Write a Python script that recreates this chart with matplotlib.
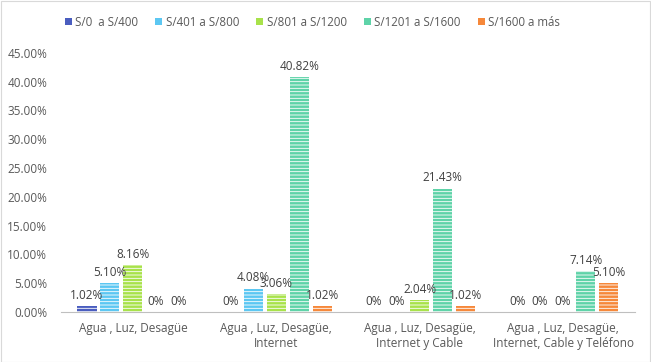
import matplotlib.pyplot as plt
import numpy as np

categories = ["Agua , Luz, Desagüe",
              "Agua , Luz, Desagüe,\nInternet",
              "Agua , Luz, Desagüe,\nInternet y Cable",
              "Agua , Luz, Desagüe,\nInternet, Cable y Teléfono"]
series_names = ["S/0  a S/400", "S/401 a S/800", "S/801 a S/1200", "S/1201 a S/1600", "S/1600 a más"]
s0_400 = [1.02, 0, 0, 0]
s401_800 = [5.10, 4.08, 0, 0]
s801_1200 = [8.16, 3.06, 2.04, 0]
s1201_1600 = [0, 40.82, 21.43, 7.14]
s1600_mas = [0, 1.02, 1.02, 5.10]
colors = ["#4a5dbf", "#5cc7f2", "#a8e24a", "#5ed3a8", "#f6883a"]

plt.rcParams['font.family'] = ['Open Sans', 'DejaVu Sans']
plt.rcParams['hatch.linewidth'] = 0.6

fig = plt.figure(figsize=(6.51, 3.62), dpi=100)
ax = fig.add_axes([0.094, 0.138, 0.881, 0.716])

series = [s0_400, s401_800, s801_1200, s1201_1600, s1600_mas]
x = np.arange(len(categories))
slot = 0.8 / len(series)
for i, (vals, name, c) in enumerate(zip(series, series_names, colors)):
    pos = x + (i - 2) * slot
    ax.bar(pos, vals, width=slot * 0.83, color=c, edgecolor="white", linewidth=0,
           hatch="-----", label=name)
    for p, v in zip(pos, vals):
        txt = "0%" if v == 0 else f"{v:.2f}%"
        ax.annotate(txt, (p, v), xytext=(0, 3), textcoords="offset points",
                    ha="center", va="bottom", fontsize=8.5, color="#404040")

ax.set_xlim(-0.5, len(categories) - 0.5)
ax.set_ylim(0, 45)
ax.set_yticks(np.arange(0, 46, 5))
ax.set_yticklabels([f"{t:.2f}%" for t in np.arange(0, 46, 5)])
ax.set_xticks(x)
ax.set_xticklabels(categories)
ax.tick_params(axis="both", length=0, labelsize=8.5, labelcolor="#595959")
ax.tick_params(axis="y", pad=10)
ax.tick_params(axis="x", pad=7)
for s in ["top", "right", "left"]:
    ax.spines[s].set_visible(False)
ax.spines["bottom"].set_color("#bfbfbf")

# legend with small square markers
handles = [plt.Rectangle((0, 0), 1, 1, facecolor=c, edgecolor="none") for c in colors]
fig.legend(handles, series_names, loc="upper center", bbox_to_anchor=(0.48, 0.985), ncol=5,
           frameon=False, fontsize=8.3, handlelength=0.6, handleheight=0.6, handletextpad=0.3,
           columnspacing=1.5, labelcolor="#595959")

fig.patches.append(plt.Rectangle((0.001, 0.001), 0.997, 0.997, transform=fig.transFigure,
                                 fill=False, edgecolor="#d9d9d9", linewidth=0.8))
fig.savefig("out.png", dpi=100)
